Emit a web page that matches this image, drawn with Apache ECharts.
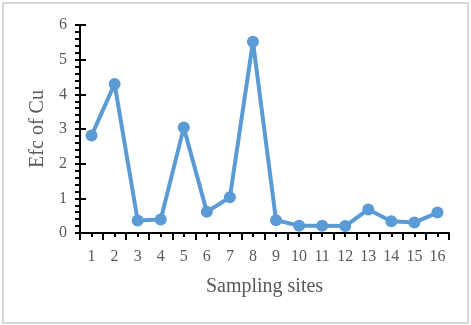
<!DOCTYPE html>
<html>
<head>
<meta charset="utf-8">
<script src="https://cdn.jsdelivr.net/npm/echarts@6/dist/echarts.min.js"></script>
<style>
    html, body { margin: 0; padding: 0; background: #fff; }
    #chart { position: absolute; left: 0; top: 0; width: 471px; height: 325px; }
    #frame { position: absolute; left: 2px; top: 2px; width: 467px; height: 322px;
             border: 2px solid #d9d9d9; box-sizing: border-box; pointer-events: none; }
</style>
</head>
<body>
<div id="chart"></div>
<div id="frame"></div>
<script>
// sampling sites along x
let sites = ['1', '2', '3', '4', '5', '6', '7', '8', '9', '10', '11', '12', '13', '14', '15', '16']
// Efc of Cu
let efcCu = [2.81, 4.30, 0.36, 0.39, 3.04, 0.61, 1.03, 5.52, 0.37, 0.21, 0.21, 0.20, 0.68, 0.34, 0.30, 0.59]

let fontFamily = '"Liberation Serif", "Times New Roman", serif'
let textColor = '#595959'
let axisColor = '#000'

let myChart = echarts.init(document.getElementById('chart'))

let option = {
    animation: false,
    textStyle: { fontFamily: fontFamily },
    grid: {
        left: 80,
        right: 22,
        top: 25,
        bottom: 92
    },
    xAxis: [{
        type: 'category',
        data: sites,
        boundaryGap: true,
        name: 'Sampling sites',
        nameLocation: 'middle',
        nameGap: 44,
        nameTextStyle: { fontFamily: fontFamily, fontSize: 20, color: textColor },
        axisLine: { lineStyle: { color: axisColor, width: 2 } },
        axisTick: { show: true, length: 7, lineStyle: { color: axisColor, width: 2 } },
        axisLabel: { fontFamily: fontFamily, fontSize: 16, color: textColor, margin: 16, interval: 0 },
        splitLine: { show: false }
    }, {
        // short ticks at the category centres
        type: 'category',
        data: sites,
        position: 'bottom',
        boundaryGap: true,
        axisLine: { show: false },
        axisTick: { show: true, alignWithLabel: true, length: 4, lineStyle: { color: axisColor, width: 2 } },
        axisLabel: { show: false },
        splitLine: { show: false }
    }],
    yAxis: [{
        type: 'value',
        min: 0,
        max: 6,
        interval: 1,
        name: 'Efc of Cu',
        nameLocation: 'middle',
        nameGap: 29,
        nameTextStyle: { fontFamily: fontFamily, fontSize: 20, color: textColor },
        axisLine: { show: true, lineStyle: { color: axisColor, width: 2 } },
        axisTick: { show: true, length: 5, lineStyle: { color: axisColor, width: 2 } },
        minorTick: { show: true, splitNumber: 5, length: 5, lineStyle: { color: axisColor, width: 2 } },
        axisLabel: { fontFamily: fontFamily, fontSize: 16, color: textColor, margin: 13 },
        splitLine: { show: false }
    }, {
        // inner half of the crossing major ticks
        type: 'value',
        min: 0,
        max: 6,
        interval: 1,
        position: 'left',
        axisLine: { show: false },
        axisTick: { show: true, inside: true, length: 6, lineStyle: { color: axisColor, width: 2 } },
        axisLabel: { show: false },
        splitLine: { show: false }
    }],
    series: [{
        name: 'Efc of Cu',
        type: 'line',
        data: efcCu,
        symbol: 'circle',
        symbolSize: 12,
        lineStyle: { color: '#5b9bd5', width: 4 },
        itemStyle: { color: '#5b9bd5' }
    }]
}
myChart.setOption(option)
</script>
</body>
</html>
